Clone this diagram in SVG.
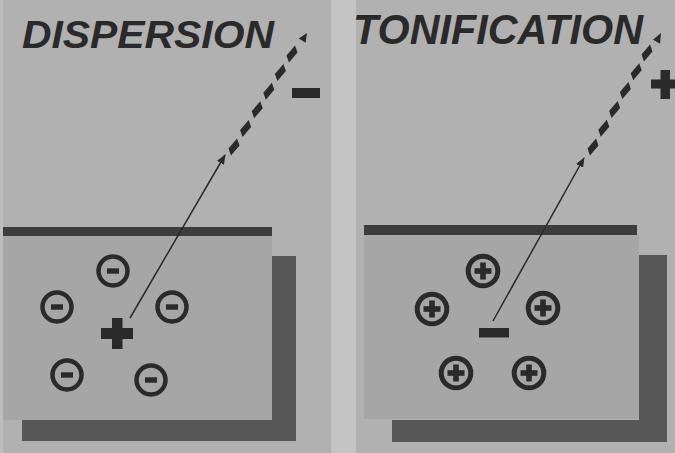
<svg xmlns="http://www.w3.org/2000/svg" width="675" height="453" viewBox="0 0 675 453">
<defs>
<style>
.bg{fill:#b1b1b1}
.gut{fill:#c4c4c4}
.box{fill:#a6a6a6}
.bar{fill:#3c3c3c}
.shadow{fill:#575757}
.ink{fill:#2a2a2a}
.title{font-family:"Liberation Sans",Arial,sans-serif;font-weight:bold;font-style:italic;fill:#2a2a2a}
.ring{fill:none;stroke:#2a2a2a;stroke-width:4.5}
.thin{stroke:#2a2a2a;stroke-width:1.5;fill:none}
</style>
<marker id="ah" markerUnits="userSpaceOnUse" markerWidth="10" markerHeight="8" refX="9" refY="4" orient="auto">
<path d="M0,0 L10,4 L0,8 Z" fill="#2a2a2a"/>
</marker>
<polygon id="dash" points="3,-8.5 5.5,-1.5 -3,8.5 -5.5,1.5" fill="#2a2a2a"/>
<g id="minusIon"><circle r="14.5" class="ring"/><rect x="-6" y="-2.7" width="12" height="5.4" fill="#2a2a2a"/></g>
<g id="plusIon"><circle r="14.8" class="ring" style="stroke-width:5"/><rect x="-8.5" y="-2.8" width="17" height="5.6" fill="#2a2a2a"/><rect x="-2.8" y="-8.5" width="5.6" height="17" fill="#2a2a2a"/></g>
</defs>
<rect class="bg" x="0" y="0" width="675" height="453"/>
<rect x="0" y="0" width="3" height="453" fill="#bdbdbd"/>
<rect class="gut" x="331" y="0" width="25" height="453"/>

<g id="dispersion-title"><text class="title" x="22" y="48" font-size="38" textLength="252" lengthAdjust="spacingAndGlyphs">DISPERSION</text></g>
<g id="tonification-title"><text class="title" x="353" y="44" font-size="42" textLength="290" lengthAdjust="spacingAndGlyphs">TONIFICATION</text></g>

<g id="left-box">
<rect class="box" x="3" y="236" width="269" height="184"/>
<rect class="bar" x="3" y="227" width="269" height="9"/>
<rect class="shadow" x="272" y="256" width="24" height="185"/>
<rect class="shadow" x="22" y="420" width="274" height="21"/>
</g>
<g id="right-box">
<rect class="box" x="364" y="235" width="275" height="184"/>
<rect class="bar" x="364" y="225" width="273" height="10"/>
<rect class="shadow" x="639" y="255" width="28" height="187"/>
<rect class="shadow" x="392" y="420" width="275" height="22"/>
</g>

<g id="left-ions">
<use href="#minusIon" x="113" y="271"/>
<use href="#minusIon" x="57" y="307"/>
<use href="#minusIon" x="172" y="307"/>
<use href="#minusIon" x="67" y="375"/>
<use href="#minusIon" x="151" y="380"/>
</g>
<g id="left-center-plus">
<rect class="ink" x="101" y="328" width="32" height="11"/>
<rect class="ink" x="112" y="318" width="10.5" height="31"/>
</g>
<g id="left-minus-label"><rect class="ink" x="292" y="88" width="28" height="10"/></g>

<g id="right-ions">
<use href="#plusIon" x="483" y="271"/>
<use href="#plusIon" x="432" y="309"/>
<use href="#plusIon" x="543" y="308"/>
<use href="#plusIon" x="456" y="373"/>
<use href="#plusIon" x="529" y="373"/>
</g>
<g id="right-center-minus"><rect class="ink" x="479" y="328" width="30" height="9.5"/></g>
<g id="right-plus-label">
<rect class="ink" x="651" y="79.5" width="30" height="9"/>
<rect class="ink" x="660.5" y="70" width="9.5" height="29"/>
</g>

<g id="connectors">
<line class="thin" x1="130" y1="318" x2="225" y2="155" marker-end="url(#ah)"/>
<use href="#dash" x="234" y="147"/>
<use href="#dash" x="245.6" y="128.4"/>
<use href="#dash" x="257.2" y="109.8"/>
<use href="#dash" x="268.8" y="91.2"/>
<use href="#dash" x="280.4" y="72.6"/>
<use href="#dash" x="292" y="54"/>
<polygon points="307,33 305.6,42.8 298.8,38.6" fill="#2a2a2a"/>

<line class="thin" x1="493" y1="321" x2="584" y2="158" marker-end="url(#ah)"/>
<use href="#dash" x="593" y="147"/>
<use href="#dash" x="603.8" y="128.2"/>
<use href="#dash" x="614.6" y="109.4"/>
<use href="#dash" x="625.4" y="90.6"/>
<use href="#dash" x="636.2" y="71.8"/>
<use href="#dash" x="647" y="53"/>
<polygon points="661,33 660,43.8 653,39.8" fill="#2a2a2a"/>
</g>
</svg>
